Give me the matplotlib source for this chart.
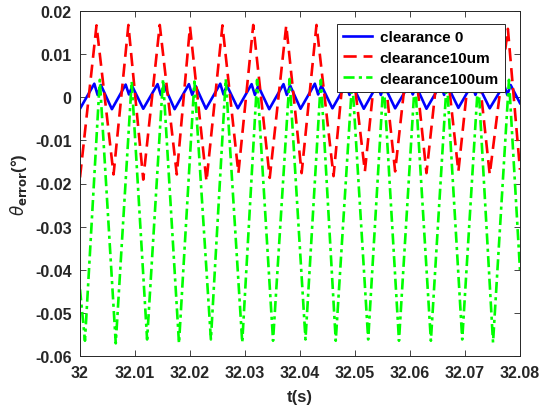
import matplotlib
matplotlib.use("Agg")
import matplotlib.pyplot as plt

# values (peaks / troughs of each trace)
blue_t = [32.0000,
          32.0026, 32.0032, 32.0038, 32.0058,
          32.0083, 32.0089, 32.0095, 32.0115,
          32.0141, 32.0147, 32.0153, 32.0172,
          32.0198, 32.0204, 32.0210, 32.0229,
          32.0255, 32.0261, 32.0267, 32.0287,
          32.0312, 32.0318, 32.0324, 32.0344,
          32.0370, 32.0376, 32.0382, 32.0401,
          32.0427, 32.0433, 32.0439, 32.0459,
          32.0484, 32.0490, 32.0496, 32.0516,
          32.0541, 32.0547, 32.0553, 32.0573,
          32.0599, 32.0605, 32.0611, 32.0630,
          32.0656, 32.0662, 32.0668, 32.0688,
          32.0713, 32.0719, 32.0725, 32.0745,
          32.0771, 32.0777, 32.0783, 32.0800]
blue_v = [-0.0027,
          0.0031, 0.0005, 0.0028, -0.0028,
          0.0029, 0.0006, 0.0025, -0.0027,
          0.0030, 0.0005, 0.0027, -0.0028,
          0.0030, 0.0005, 0.0026, -0.0027,
          0.0031, 0.0006, 0.0027, -0.0026,
          0.0030, 0.0005, 0.0026, -0.0028,
          0.0030, 0.0005, 0.0027, -0.0027,
          0.0031, 0.0006, 0.0027, -0.0026,
          0.0030, 0.0005, 0.0026, -0.0027,
          0.0030, 0.0005, 0.0027, -0.0026,
          0.0030, 0.0006, 0.0026, -0.0027,
          0.0030, 0.0005, 0.0027, -0.0025,
          0.0030, 0.0005, 0.0026, -0.0026,
          0.0029, 0.0005, 0.0028, -0.0014]

red_t = [32.0000, 32.0030, 32.0061, 32.0088, 32.0115, 32.0145, 32.0176,
         32.0200, 32.0230, 32.0259, 32.0288, 32.0315, 32.0345, 32.0375,
         32.0403, 32.0430, 32.0461, 32.0487, 32.0518, 32.0545, 32.0573,
         32.0602, 32.0630, 32.0659, 32.0688, 32.0716, 32.0745, 32.0778,
         32.0800]
red_v = [-0.0186, 0.0166, -0.0179, 0.0167, -0.0191, 0.0167, -0.0179,
         0.0163, -0.0195, 0.0166, -0.0176, 0.0167, -0.0187, 0.0166,
         -0.0176, 0.0167, -0.0183, 0.0165, -0.0172, 0.0165, -0.0172,
         0.0165, -0.0176, 0.0165, -0.0172, 0.0165, -0.0179, 0.0158,
         -0.0168]

green_t = [32.0000, 32.0009, 32.0036, 32.0065, 32.0094, 32.0122, 32.0151,
           32.0180, 32.0208, 32.0238, 32.0265, 32.0295, 32.0322, 32.0351,
           32.0381, 32.0410, 32.0438, 32.0465, 32.0495, 32.0524, 32.0552,
           32.0580, 32.0609, 32.0638, 32.0667, 32.0695, 32.0724, 32.0751,
           32.0780, 32.0800]
green_v = [-0.0445, -0.0564, 0.0040, -0.0570, 0.0036, -0.0561, 0.0042,
           -0.0570, 0.0036, -0.0561, 0.0042, -0.0568, 0.0040, -0.0564,
           0.0042, -0.0561, 0.0040, -0.0564, 0.0040, -0.0561, 0.0040,
           -0.0564, 0.0040, -0.0564, 0.0040, -0.0561, 0.0040, -0.0568,
           0.0040, -0.0400]

labels = ["clearance 0", "clearance10um", "clearance100um"]
xticks = [32, 32.01, 32.02, 32.03, 32.04, 32.05, 32.06, 32.07, 32.08]
xtick_labels = ["32", "32.01", "32.02", "32.03", "32.04", "32.05", "32.06", "32.07", "32.08"]
yticks = [-0.06, -0.05, -0.04, -0.03, -0.02, -0.01, 0, 0.01, 0.02]
ytick_labels = ["-0.06", "-0.05", "-0.04", "-0.03", "-0.02", "-0.01", "0", "0.01", "0.02"]

plt.rcParams["font.family"] = ["Liberation Sans", "DejaVu Sans"]
plt.rcParams["mathtext.fontset"] = "dejavusans"

fig = plt.figure(figsize=(5.51, 4.10), dpi=100)
ax = fig.add_axes([0.1452, 0.1285, 0.7985, 0.843])

ax.plot(blue_t, blue_v, color=(0, 0, 1), lw=1.9, label=labels[0])
ax.plot(red_t, red_v, color=(1, 0, 0), lw=1.9, dashes=(5.0, 2.6), label=labels[1])
ax.plot(green_t, green_v, color=(0, 1, 0), lw=1.9, dashes=(4.2, 1.6, 1.2, 1.6), label=labels[2])

ax.set_xlim(32, 32.08)
ax.set_ylim(-0.06, 0.02)
ax.set_xticks(xticks)
ax.set_xticklabels(xtick_labels)
ax.set_yticks(yticks)
ax.set_yticklabels(ytick_labels)

grey = (0.15, 0.15, 0.15)
ax.tick_params(direction="in", length=4, width=0.6, top=True, right=True,
               labelsize=11.5, colors=grey, pad=6)
for lab in ax.get_xticklabels() + ax.get_yticklabels():
    lab.set_fontweight("bold")
for sp in ax.spines.values():
    sp.set_color(grey)
    sp.set_linewidth(0.7)

ax.set_xlabel("t(s)", fontsize=12, fontweight="bold", color=grey, labelpad=7)
ax.set_ylabel(r"$\theta_{\mathbf{error}}$(°)", fontsize=12, fontweight="bold",
              color=grey, labelpad=4)

leg = ax.legend(loc="upper right", bbox_to_anchor=(0.966, 0.962),
                prop={"weight": "bold", "size": 11}, handlelength=1.9,
                fancybox=False, framealpha=1, edgecolor=grey,
                borderpad=0.4, labelspacing=0.45, handletextpad=0.5,
                borderaxespad=0.0)
leg.get_frame().set_linewidth(0.7)

fig.savefig("out.png", dpi=100)
